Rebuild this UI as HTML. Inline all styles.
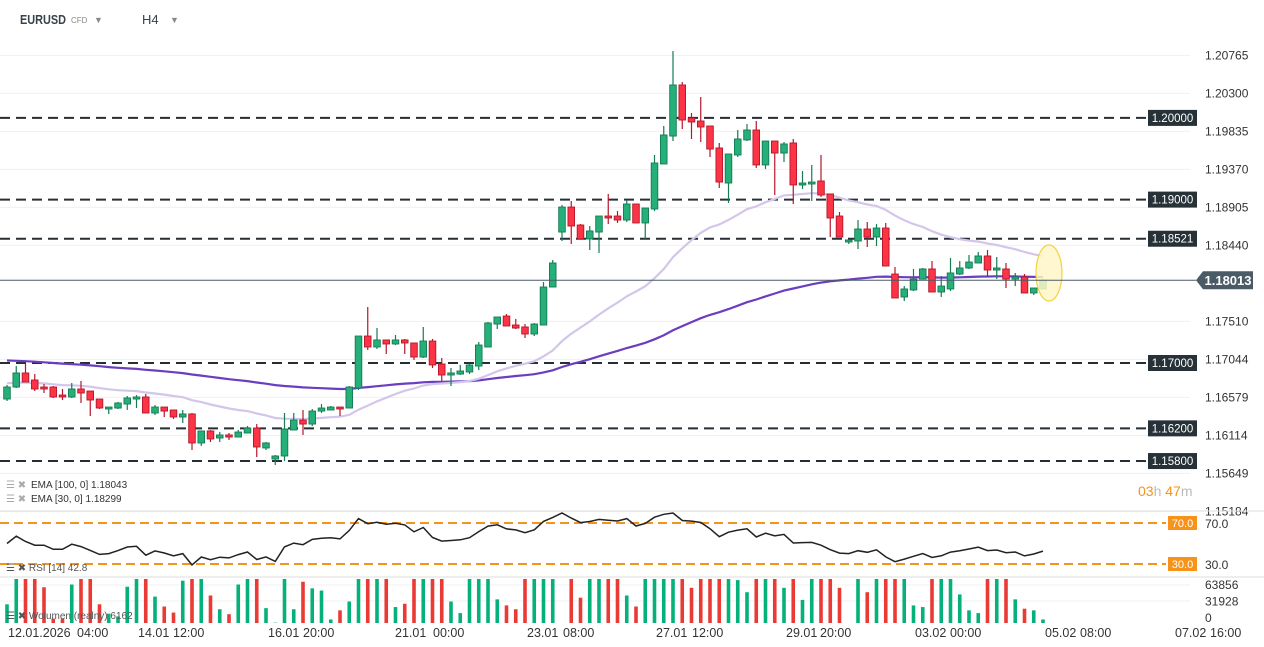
<!DOCTYPE html>
<html><head><meta charset="utf-8"><style>
html,body{margin:0;padding:0;background:#fff;}
svg{display:block;font-family:"Liberation Sans",sans-serif;}
</style></head><body>
<svg id="chart" width="1264" height="647" viewBox="0 0 1264 647">
<g>
<text x="20" y="24" font-size="13" font-weight="bold" fill="#37424a" textLength="46" lengthAdjust="spacingAndGlyphs">EURUSD</text>
<text x="71" y="23" font-size="8" fill="#888">CFD</text>
<text x="94" y="23" font-size="9" fill="#888">▼</text>
<text x="142" y="24" font-size="13" fill="#37424a">H4</text>
<text x="170" y="23" font-size="9" fill="#888">▼</text>
</g>
<g id="grid"></g>
<g id="levels"></g>
<g id="emas"></g>
<g id="candles"></g>
<ellipse cx="1049" cy="273" rx="13" ry="28" fill="#fff6c8" fill-opacity="0.85" stroke="#f3d23e" stroke-width="1.2"/>
<g id="last"></g>
<g id="axis"></g>
<g font-size="10" fill="#333">
<text x="6" y="488" fill="#aaa" font-size="10">☰ ✖</text>
<text x="31" y="488">EMA  [100,  0]  1.18043</text>
<text x="6" y="502" fill="#aaa" font-size="10">☰ ✖</text>
<text x="31" y="502">EMA  [30,  0]  1.18299</text>
</g>
<g font-size="14">
<text x="1138" y="496" fill="#f7931a">03<tspan fill="#bbb">h </tspan>47<tspan fill="#bbb">m</tspan></text>
</g>
<line x1="0" y1="511" x2="1264" y2="511" stroke="#ddd"/>
<line x1="0" y1="577" x2="1264" y2="577" stroke="#ddd"/>
<g id="rsi"></g>
<g id="vol"></g>
<g font-size="10" fill="#555">
<text x="6" y="571">☰ ✖ RSI  [14]  42.8</text>
<text x="6" y="619">☰ ✖ Wolumen  (realny)  6162</text>
</g>
<g id="time"></g>
</svg>
<script>
const opens=[1.16559,1.16706,1.16878,1.16792,1.16706,1.16706,1.16608,1.16584,1.16682,1.16657,1.16559,1.16437,1.16449,1.16498,1.16559,1.16584,1.16388,1.16461,1.16425,1.16339,1.16376,1.16021,1.16168,1.16082,1.16119,1.16094,1.16143,1.16204,1.15960,1.15825,1.15862,1.16180,1.16302,1.16253,1.16412,1.16425,1.16461,1.16449,1.16694,1.17330,1.17196,1.17282,1.17233,1.17282,1.17245,1.17073,1.17269,1.16988,1.16853,1.16865,1.16890,1.16963,1.17196,1.17477,1.17575,1.17465,1.17441,1.17355,1.17465,1.17930,1.18603,1.18909,1.18689,1.18518,1.18603,1.18799,1.18799,1.18750,1.18946,1.18714,1.18885,1.19436,1.19778,1.20403,1.19999,1.19962,1.19901,1.19632,1.19203,1.19546,1.19730,1.19852,1.19424,1.19717,1.19570,1.19693,1.19179,1.19191,1.19228,1.19069,1.18799,1.18481,1.18493,1.18640,1.18542,1.18652,1.18089,1.17808,1.17894,1.18028,1.18151,1.17869,1.17906,1.18089,1.18163,1.18224,1.18310,1.18138,1.18151,1.18028,1.18053,1.17857,1.17906];
const closes=[1.16706,1.16878,1.16767,1.16682,1.16682,1.16584,1.16584,1.16682,1.16633,1.16547,1.16449,1.16461,1.16510,1.16572,1.16584,1.16388,1.16461,1.16412,1.16339,1.16376,1.16021,1.16168,1.16070,1.16119,1.16094,1.16155,1.16204,1.15972,1.16021,1.15862,1.16192,1.16302,1.16253,1.16412,1.16449,1.16461,1.16437,1.16706,1.17330,1.17196,1.17282,1.17233,1.17282,1.17245,1.17073,1.17269,1.16976,1.16853,1.16878,1.16902,1.16976,1.17220,1.17490,1.17563,1.17453,1.17428,1.17355,1.17477,1.17930,1.18224,1.18909,1.18677,1.18518,1.18616,1.18799,1.18775,1.18750,1.18946,1.18714,1.18897,1.19448,1.19791,1.20403,1.19974,1.19950,1.19889,1.19619,1.19215,1.19558,1.19742,1.19852,1.19424,1.19717,1.19570,1.19681,1.19179,1.19203,1.19215,1.19056,1.18775,1.18542,1.18506,1.18640,1.18542,1.18652,1.18187,1.17796,1.17906,1.18028,1.18151,1.17869,1.17942,1.18102,1.18163,1.18236,1.18310,1.18138,1.18163,1.18028,1.18053,1.17857,1.17918,1.18013];
const highs=[1.16731,1.16963,1.16988,1.16865,1.16743,1.16718,1.16682,1.16755,1.16780,1.16657,1.16559,1.16461,1.16523,1.16596,1.16608,1.16621,1.16486,1.16461,1.16425,1.16425,1.16388,1.16168,1.16180,1.16155,1.16143,1.16180,1.16229,1.16253,1.16033,1.15874,1.16388,1.16388,1.16425,1.16437,1.16498,1.16474,1.16461,1.16718,1.17330,1.17685,1.17428,1.17282,1.17343,1.17294,1.17245,1.17441,1.17294,1.17061,1.16939,1.16976,1.16988,1.17257,1.17502,1.17563,1.17600,1.17539,1.17477,1.17490,1.17991,1.18261,1.18934,1.18983,1.18701,1.18677,1.18799,1.19069,1.18860,1.18995,1.18946,1.18897,1.19546,1.19901,1.20819,1.20439,1.20060,1.20256,1.19901,1.19693,1.19558,1.19852,1.19925,1.19962,1.19717,1.19717,1.19705,1.19742,1.19350,1.19424,1.19546,1.19069,1.18848,1.18506,1.18750,1.18726,1.18701,1.18714,1.18175,1.17942,1.18151,1.18163,1.18248,1.18065,1.18285,1.18248,1.18322,1.18359,1.18383,1.18297,1.18224,1.18102,1.18089,1.17918,1.18028];
const lows=[1.16535,1.16694,1.16767,1.16657,1.16633,1.16572,1.16547,1.16572,1.16510,1.16351,1.16437,1.16376,1.16437,1.16425,1.16449,1.16388,1.16364,1.16339,1.16315,1.16266,1.15935,1.15984,1.16033,1.16033,1.16058,1.16094,1.16143,1.15849,1.15935,1.15751,1.15800,1.16180,1.16119,1.16229,1.16388,1.16425,1.16351,1.16657,1.16670,1.17159,1.17171,1.17110,1.17220,1.17110,1.17037,1.17061,1.16939,1.16780,1.16718,1.16853,1.16865,1.16914,1.17196,1.17416,1.17453,1.17416,1.17306,1.17330,1.17465,1.17930,1.18493,1.18457,1.18518,1.18383,1.18346,1.18701,1.18714,1.18726,1.18714,1.18518,1.18860,1.19436,1.19717,1.19864,1.19742,1.19705,1.19521,1.19142,1.18958,1.19521,1.19717,1.19387,1.19375,1.19056,1.19460,1.18946,1.19130,1.18983,1.19032,1.18542,1.18542,1.18457,1.18395,1.18420,1.18432,1.18187,1.17796,1.17759,1.17881,1.18028,1.17869,1.17808,1.17881,1.18077,1.18151,1.18224,1.18065,1.18028,1.17918,1.17942,1.17857,1.17832,1.17906];
const volumes=[34000,90000,90000,90000,65000,8000,8000,70000,90000,90000,34000,17000,12000,66000,90000,90000,48000,30000,19000,77000,90000,90000,50000,25000,16000,70000,90000,90000,27000,600,90000,25000,75000,63000,59000,6400,23000,39000,90000,90000,90000,90000,29000,35000,90000,90000,90000,90000,39000,18000,90000,90000,90000,43000,32000,25000,90000,90000,90000,90000,0,90000,46000,90000,90000,90000,90000,50000,30000,90000,90000,90000,90000,90000,64000,90000,90000,90000,90000,78000,56000,90000,90000,90000,64000,90000,42000,90000,90000,90000,64000,0,90000,56000,90000,90000,90000,90000,32000,29000,90000,90000,90000,52000,23000,18000,90000,90000,90000,43000,26000,23000,6400];
const levelPrices=[1.2,1.19,1.18521,1.17,1.162,1.158];
const levelLabels=["1.20000","1.19000","1.18521","1.17000","1.16200","1.15800"];
const axisTicks=[1.20765,1.20300,1.19835,1.19370,1.18905,1.18440,1.17510,1.17044,1.16579,1.16114,1.15649,1.15184];
const emaSeeds=[1.17037,1.16755];
const rsiSeed=[0.00040,0.00040];
const timeLabels=["12.01.2026","04:00","14.01","12:00","16.01","20:00","21.01","00:00","23.01","08:00","27.01","12:00","29.01","20:00","03.02","00:00","05.02","08:00","07.02","16:00"];
const timeX=[8,77,138,173,268,303,395,433,527,563,656,692,786,820,915,950,1045,1080,1175,1210];
const volTicks=["63856","31928","0"];

const NS="http://www.w3.org/2000/svg";
function mk(tag,attrs,parent){const e=document.createElementNS(NS,tag);for(const k in attrs)e.setAttribute(k,attrs[k]);parent.appendChild(e);return e;}
const X=i=>7+i*9.25;
const Y=p=>363-(p-1.17)*8170;
const RY=r=>564-(r-30)/40*41;
const VY=v=>623-Math.min(v,80000)/80000*44;

const grid=document.getElementById('grid');
axisTicks.forEach(t=>{const l=mk('line',{x1:0,x2:1190,y1:Y(t),y2:Y(t),stroke:'#f0f0f0'},grid);

});
const axis=document.getElementById('axis');
axisTicks.forEach(t=>{const tx=mk('text',{x:1205,y:Y(t)+4,'font-size':12,fill:'#333'},axis);tx.textContent=t.toFixed(5);

});

const lev=document.getElementById('levels');
levelPrices.forEach((p,k)=>{const y=Y(p);
const l=mk('line',{x1:0,x2:1147,y1:y,y2:y,stroke:'#262f35','stroke-width':2,'stroke-dasharray':'10 6'},lev);


const r=mk('rect',{x:1148,y:y-8,width:49,height:16,fill:'#263238'},lev);


const t=mk('text',{x:1172.5,y:y+4,'font-size':11.5,fill:'#fff','text-anchor':'middle'},lev);t.textContent=levelLabels[k];

});

const em=document.getElementById('emas');
[[100,'#6b3ec0',2.2],[30,'#d3c6ea',2.2]].forEach((cfg,k)=>{let e=emaSeeds[k];const a=2/(cfg[0]+1);const pts=[];
closes.forEach((c,i)=>{e=e+a*(c-e);pts.push(X(i).toFixed(1)+','+Y(e).toFixed(1));});
const pl=mk('polyline',{points:pts.join(' '),fill:'none',stroke:cfg[1],'stroke-width':cfg[2]},em);

});

const cg=document.getElementById('candles');
closes.forEach((c,i)=>{const o=opens[i];const up=c>=o;const x=X(i);
const wc=up?'#167a52':'#b3182a';
const w=mk('line',{x1:x,x2:x,y1:Y(highs[i]),y2:Y(lows[i]),stroke:wc,'stroke-width':1.2},cg);


const top=Y(Math.max(o,c)),bot=Y(Math.min(o,c));
const b=mk('rect',{x:x-3.3,y:top,width:6.6,height:Math.max(1.5,bot-top),fill:up?'#25b07a':'#fd3346',stroke:wc,'stroke-width':0.9},cg);

});

const last=document.getElementById('last');const lp=closes[closes.length-1];const ly=Y(lp);
const ll=mk('line',{x1:0,x2:1196,y1:ly,y2:ly,stroke:'#4a5b66','stroke-width':1},last);


const lpath=mk('path',{d:`M1196 ${ly} L1203 ${ly-9} L1253 ${ly-9} L1253 ${ly+9} L1203 ${ly+9} Z`,fill:'#4a5b66'},last);


const lt=mk('text',{x:1228,y:ly+5,'font-size':13,'font-weight':'bold',fill:'#fff','text-anchor':'middle'},last);lt.textContent=lp.toFixed(5);



const rg=document.getElementById('rsi');
[70,30].forEach(v=>{const y=RY(v);
const l=mk('line',{x1:0,x2:1166,y1:y,y2:y,stroke:'#f7931a','stroke-width':2,'stroke-dasharray':'9 5'},rg);


const r=mk('rect',{x:1168,y:y-7,width:29,height:14,fill:'#f7931a'},rg);


const t=mk('text',{x:1182.5,y:y+4,'font-size':11,fill:'#fff','text-anchor':'middle'},rg);t.textContent=v.toFixed(1);


const t2=mk('text',{x:1205,y:y+5,'font-size':12,fill:'#333'},rg);t2.textContent=v.toFixed(1);

});
let ag=rsiSeed[0],al=rsiSeed[1];const rp=[];
closes.forEach((c,i)=>{if(i>0){const d=c-closes[i-1];ag=(ag*13+Math.max(d,0))/14;al=(al*13+Math.max(-d,0))/14;}
const r=100-100/(1+ag/al);rp.push(X(i).toFixed(1)+','+Math.max(513,RY(r)).toFixed(1));});
const rl=mk('polyline',{points:rp.join(' '),fill:'none',stroke:'#222','stroke-width':1.5},rg);



const vg=document.getElementById('vol');
[585,601].forEach(y=>{const l=mk('line',{x1:0,x2:1190,y1:y,y2:y,stroke:'#f0f0f0'},vg);

});
volumes.forEach((v,i)=>{const up=closes[i]>=opens[i];const y=VY(v);
const b=mk('rect',{x:X(i)-1.8,y:y,width:3.6,height:623-y,fill:up?'#06b07a':'#ea3a36'},vg);

});
volTicks.forEach((t,k)=>{const tx=mk('text',{x:1205,y:589+k*16.5,'font-size':12,fill:'#333'},vg);tx.textContent=t;

});

const tg=document.getElementById('time');
timeLabels.forEach((t,k)=>{const tx=mk('text',{x:timeX[k],y:637,'font-size':12.5,fill:'#333'},tg);tx.textContent=t;

});
</script>
</body></html>
